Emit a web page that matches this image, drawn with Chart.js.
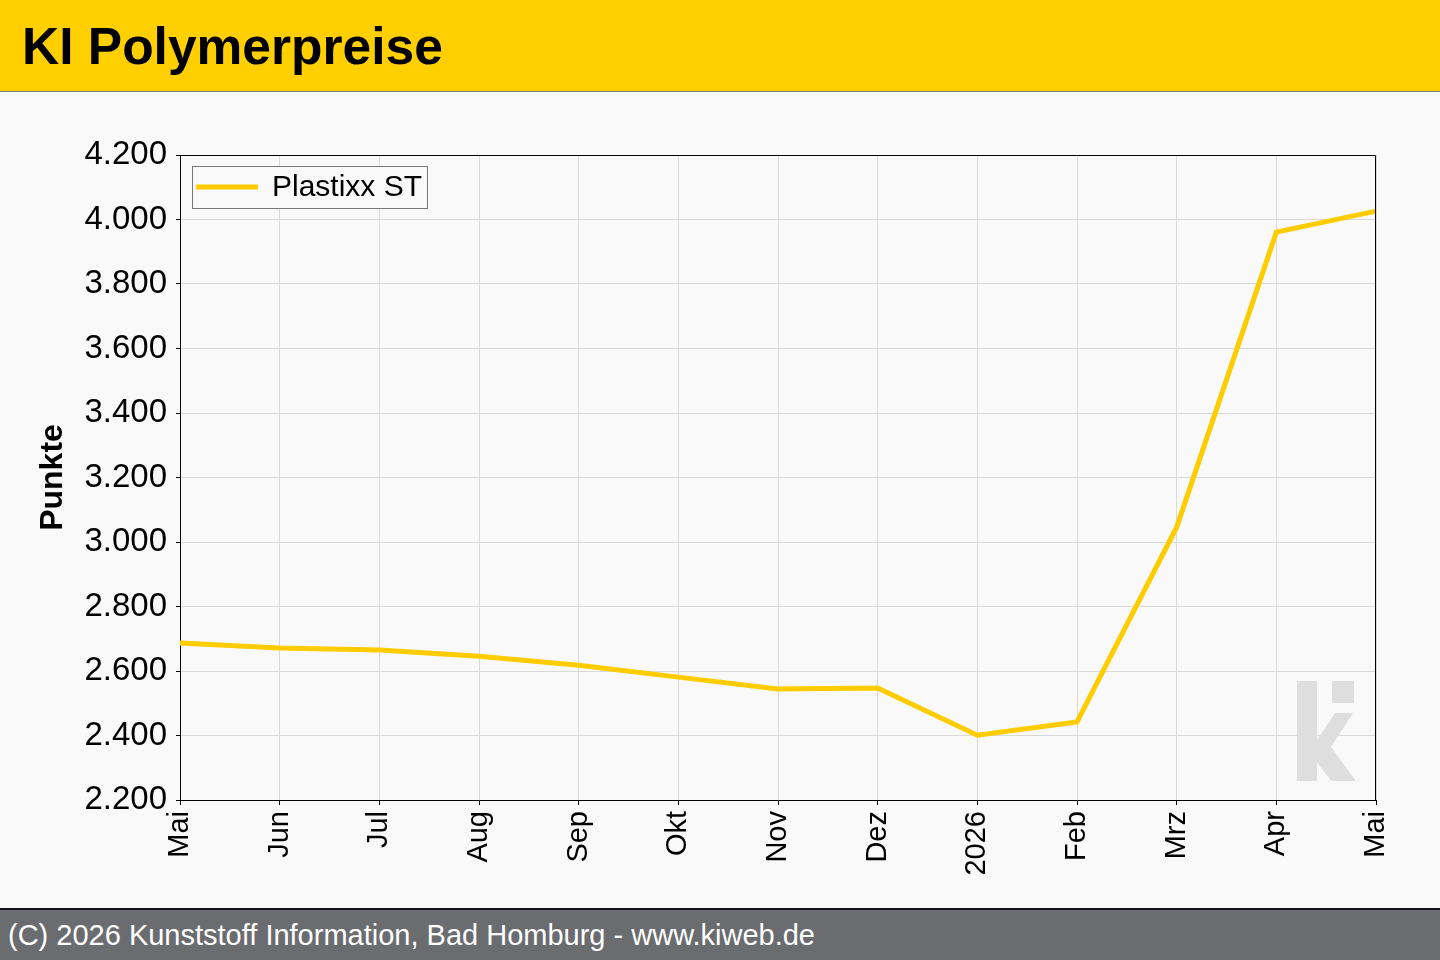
<!DOCTYPE html>
<html>
<head>
<meta charset="utf-8">
<script src="https://cdn.jsdelivr.net/npm/chart.js@4/dist/chart.umd.min.js"></script>
<style>
  html, body { margin: 0; padding: 0; background: #f9f9f9; width: 1440px; height: 960px; overflow: hidden; font-family: "Liberation Sans", Arial, sans-serif; }
  #head { position: absolute; left: 0; top: 0; width: 1440px; height: 91px; background: #ffcf00; border-bottom: 1px solid #808080; }
  #head h1 { margin: 0; position: absolute; left: 22px; top: 15px; font-size: 51.5px; font-weight: bold; color: #000; line-height: 62px; }
  #wrap { position: absolute; left: 0; top: 93px; width: 1440px; height: 815px; }
  #foot { position: absolute; left: 0; top: 908px; width: 1440px; height: 50px; background: #6b6c70; border-top: 2px solid #111; }
  #foot span { position: absolute; left: 8px; top: 9px; color: #fff; font-size: 29px; font-family: "Liberation Sans", Arial, sans-serif; white-space: nowrap; }
</style>
</head>
<body>
<div id="head"><h1>KI Polymerpreise</h1></div>
<div id="wrap"><canvas id="myChart" width="1440" height="815"></canvas></div>
<div id="foot"><span>(C) 2026 Kunststoff Information, Bad Homburg - www.kiweb.de</span></div>
<script>
// Monate Mai 2025 bis Mai 2026
const labels = ['Mai', 'Jun', 'Jul', 'Aug', 'Sep', 'Okt', 'Nov', 'Dez', '2026', 'Feb', 'Mrz', 'Apr', 'Mai']
const plastixxST = [2687, 2671, 2665, 2646, 2618, 2581, 2544, 2547, 2401, 2442, 3046, 3961, 4026]
const seriesName = 'Plastixx ST'
const yMin = 2200
const yMax = 4200
const yStep = 200

const lineColor = '#ffcc00'

// legende oben links im Diagramm + ki logo
const extras = {
    id: 'extras',
    afterDraw: function(chart){
        const ctx = chart.ctx
        const a = chart.chartArea
        ctx.save()
        // logo
        ctx.fillStyle = '#dedede'
        const r = a.right, b = a.bottom
        ctx.fillRect(r - 79, b - 119, 20, 100)
        ctx.fillRect(r - 44, b - 119, 22, 22)
        ctx.beginPath()
        ctx.moveTo(r - 59, b - 60)
        ctx.lineTo(r - 41, b - 87)
        ctx.lineTo(r - 23, b - 87)
        ctx.lineTo(r - 45, b - 53)
        ctx.lineTo(r - 20, b - 19)
        ctx.lineTo(r - 45, b - 19)
        ctx.lineTo(r - 59, b - 38)
        ctx.closePath()
        ctx.fill()
        // legend
        const x = a.left + 12, y = a.top + 11
        ctx.fillStyle = '#f9f9f9'
        ctx.fillRect(x, y, 235, 42)
        ctx.strokeStyle = '#777'
        ctx.lineWidth = 1
        ctx.strokeRect(x + 0.5, y + 0.5, 235, 42)
        ctx.strokeStyle = lineColor
        ctx.lineWidth = 5
        ctx.beginPath()
        ctx.moveTo(x + 4, y + 21)
        ctx.lineTo(x + 66, y + 21)
        ctx.stroke()
        ctx.fillStyle = '#000'
        ctx.font = '30px "Liberation Sans", Arial, sans-serif'
        ctx.textBaseline = 'middle'
        ctx.fillText(seriesName, x + 80, y + 22)
        ctx.restore()
    }
}

var ctx = document.getElementById('myChart').getContext('2d')
var myChart = new Chart(ctx, {
    type: 'line',
    data: {
        labels: labels,
        datasets: [{
            label: seriesName,
            data: plastixxST,
            borderColor: lineColor,
            backgroundColor: lineColor,
            borderWidth: 5,
            pointRadius: 0,
            tension: 0,
            fill: false
        }]
    },
    options: {
        responsive: false,
        animation: false,
        layout: { padding: { top: 62, right: 64, left: 34, bottom: 0 } },
        plugins: {
            legend: { display: false },
            tooltip: { enabled: false }
        },
        scales: {
            x: {
                offset: false,
                grid: { color: '#d9d9d9', tickColor: '#000', tickLength: 5, lineWidth: 1 },
                border: { color: '#000', width: 1 },
                ticks: {
                    color: '#000',
                    font: { family: '"Liberation Sans", Arial, sans-serif', size: 29 },
                    maxRotation: 90, minRotation: 90,
                    autoSkip: false,
                    padding: 6
                },
                afterFit: function(scale){ scale.height = 108 }
            },
            y: {
                min: yMin, max: yMax,
                grid: { color: '#d9d9d9', tickColor: '#000', tickLength: 4, lineWidth: 1 },
                border: { color: '#000', width: 1 },
                ticks: {
                    stepSize: yStep,
                    color: '#000',
                    padding: 9,
                    font: { family: '"Liberation Sans", Arial, sans-serif', size: 33 },
                    callback: function(v){ return v.toLocaleString('de-DE') }
                },
                title: {
                    display: true,
                    text: 'Punkte',
                    color: '#000',
                    font: { family: '"Liberation Sans", Arial, sans-serif', size: 32, weight: 'bold' },
                    padding: { top: 0, bottom: 6 }
                },
                afterFit: function(scale){ scale.width = 146 }
            }
        }
    },
    plugins: [extras, {
        id: 'frame',
        afterDatasetsDraw: function(chart){
            const c = chart.ctx, a = chart.chartArea
            c.save()
            c.strokeStyle = '#000'
            c.lineWidth = 1
            c.beginPath()
            c.moveTo(a.left, a.top + 0.5)
            c.lineTo(a.right - 0.5, a.top + 0.5)
            c.lineTo(a.right - 0.5, a.bottom)
            c.stroke()
            c.restore()
        }
    }]
})
</script>
</body>
</html>
